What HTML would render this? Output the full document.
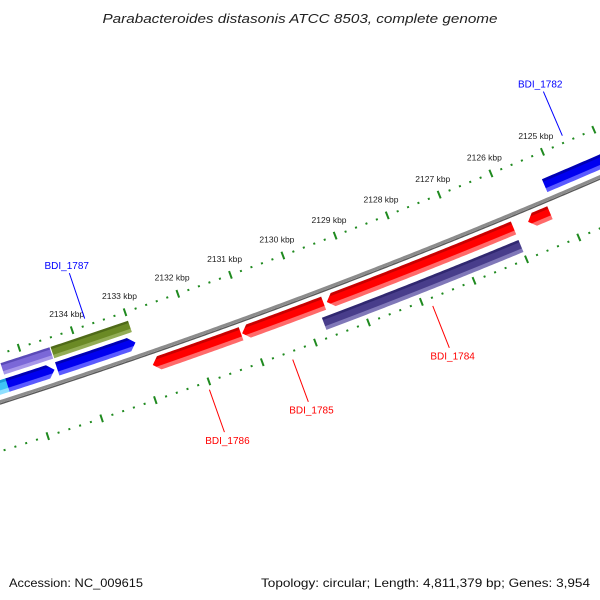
<!DOCTYPE html>
<html><head><meta charset="utf-8"><style>
html,body{margin:0;padding:0;background:#fff}
svg{display:block}
text{font-family:"Liberation Sans","DejaVu Sans",sans-serif}
</style></head><body>
<svg id="chart" width="600" height="600" viewBox="0 0 600 600" xmlns="http://www.w3.org/2000/svg">
<defs id="defs"></defs>
<text x="300" y="23" text-anchor="middle" font-size="13" font-style="italic" fill="#222" textLength="395" lengthAdjust="spacingAndGlyphs">Parabacteroides distasonis ATCC 8503, complete genome</text>
<g id="plot"></g>
<text x="9" y="587" font-size="12" fill="#111" textLength="134" lengthAdjust="spacingAndGlyphs">Accession: NC_009615</text>
<text x="590" y="587" font-size="12" fill="#111" text-anchor="end" textLength="329" lengthAdjust="spacingAndGlyphs">Topology: circular; Length: 4,811,379 bp; Genes: 3,954</text>
</svg>
<script>
// ---- data ----
const featureNames = ["cyan-gene","purple-gene","olive-gene","blue-gene-a","blue-gene-b","blue-gene-1782","red-gene-1786","red-gene-1785","red-gene-1784","red-gene-small","purple-gene-dark"];
const featureStart = [2135.38,2134.48,2133.00,2134.52,2133.00,2123.00,2131.18,2129.62,2126.00,2125.30,2126.00];
const featureEnd   = [2135.70,2135.40,2134.46,2135.40,2134.47,2125.20,2132.84,2131.16,2129.56,2125.72,2129.74];
const featureArrow = ["high","none","none","low","low","none","high","high","high","high","none"];
const featureRow   = ["blue","purpleL","olive","blue","blue","blue","red","red","red","red","purpleD"];
const featureColor = ["cyan","purpleL","olive","blue","blue","blue","red","red","red","red","purpleD"];
const tickLabels = [2134,2133,2132,2131,2130,2129,2128,2127,2126,2125];
const geneLabels = ["BDI_1787","BDI_1782","BDI_1786","BDI_1785","BDI_1784"];
const geneLabelPos = [2133.72,2124.56,2132.04,2130.48,2127.84];
const geneLabelSide = ["up","up","down","down","down"];

// ---- geometry ----
const CX=-1963, CY=-5745;
const R_BACK=6453, R_UP=6407, R_LOW=6500;
const rows={purpleL:[6416,6428],olive:[6416,6428],blue:[6432,6446],red:[6459,6473],purpleD:[6479,6492]};
const palette={
 cyan:["#1e9fd8","#3fc4f5","#8fe0ff"],
 purpleL:["#5a4ab8","#7b68d8","#a898ea"],
 olive:["#4f6a18","#6b8a25","#93ad55"],
 blue:["#0000b4","#0000f0","#5a5aff"],
 red:["#c80000","#ff0000","#ff6a6a"],
 purpleD:["#302870","#483d8b","#8078b8"]};
function ang(k){return (71.48+(k-2134)*0.5)*Math.PI/180;}
function pt(k,r){const a=ang(k);return [CX+r*Math.cos(a),CY+r*Math.sin(a)];}
const NS="http://www.w3.org/2000/svg";
const plot=document.getElementById('plot'), defs=document.getElementById('defs');
function mk(tag,attrs,parent){const e=document.createElementNS(NS,tag);for(const k in attrs)e.setAttribute(k,attrs[k]);(parent||plot).appendChild(e);return e;}
function arcPath(r,k1,k2){let d="";const n=Math.max(2,Math.ceil(Math.abs(k2-k1)/0.05));for(let i=0;i<=n;i++){const k=k1+(k2-k1)*i/n;const p=pt(k,r);d+=(i?"L":"M")+p[0].toFixed(2)+","+p[1].toFixed(2);}return d;}

// gradients
Object.keys(palette).forEach(c=>{
 Object.keys(rows).forEach(rw=>{
  const [r0,r1]=rows[rw];
  const g=mk('radialGradient',{id:'g-'+c+'-'+rw,gradientUnits:'userSpaceOnUse',cx:CX,cy:CY,r:r1,fx:CX,fy:CY},defs);
  const o=v=>(v/r1).toFixed(6);const h=r1-r0;
  [[r0,0],[r0+h*0.18,0],[r0+h*0.22,1],[r0+h*0.68,1],[r0+h*0.72,2],[r1,2]].forEach(s=>mk('stop',{offset:o(s[0]),'stop-color':palette[c][s[1]]},g));
 });
});

// backbone
const bb1=mk('path',{d:arcPath(R_BACK-0.5,2136.6,2122.5),fill:'none',stroke:'#8c8c8c','stroke-width':3});


const bb2=mk('path',{d:arcPath(R_BACK+1.8,2136.6,2122.5),fill:'none',stroke:'#5a5a5a','stroke-width':1.4});



// ticks
function ticks(r,kFrom,kTo,name){
 for(let i=Math.round(kTo*5);i<=Math.round(kFrom*5);i++){
  const k=i/5;const major=(i%5===0);
  const a=pt(k,r-(major?4:1)),b=pt(k,r+(major?4:1));
  const t=mk('line',{x1:a[0],y1:a[1],x2:b[0],y2:b[1],stroke:'#1f8a1f','stroke-width':2});
  
  
 }
}
ticks(R_UP,2135.2,2123.0,'upper-ruler');
ticks(R_LOW,2136.4,2123.0,'lower-ruler');
tickLabels.forEach(k=>{
 const p=pt(k,6390);
 const t=mk('text',{x:p[0],y:p[1]+3,'text-anchor':'middle','font-size':8.5,fill:'#222'});
 t.textContent=k+' kbp';
 
 
});

// features
featureNames.forEach((nm,i)=>{
 const [r0,r1]=rows[featureRow[i]];const rm=(r0+r1)/2;
 const lo=featureStart[i],hi=featureEnd[i];const ah=0.12;
 let loIn=lo,hiIn=hi;
 if(featureArrow[i]==='low')loIn=lo+ah;
 if(featureArrow[i]==='high')hiIn=hi-ah;
 let d=arcPath(r0,loIn,hiIn).replace(/^M/,'M');
 if(featureArrow[i]==='high'){const p=pt(hi,rm);d+="L"+p[0]+","+p[1];}
 d+=arcPath(r1,hiIn,loIn).replace(/^M/,'L');
 if(featureArrow[i]==='low'){const p=pt(lo,rm);d+="L"+p[0]+","+p[1];}
 d+="Z";
 const e=mk('path',{d:d,fill:'url(#g-'+featureColor[i]+'-'+featureRow[i]+')'});
 
 
});

// gene labels
geneLabels.forEach((lb,i)=>{
 const k=geneLabelPos[i];const up=geneLabelSide[i]==='up';
 const col=up?'#0000ff':'#ff0000';
 const a=pt(k,up?6352:6508),b=pt(k,up?6400:6553),tp=pt(k,up?6344:6562);
 const l=mk('line',{x1:a[0],y1:a[1],x2:b[0],y2:b[1],stroke:col,'stroke-width':1});
 
 
 const t=mk('text',{x:tp[0],y:tp[1]+3.5,'text-anchor':'middle','font-size':10,fill:col});
 t.textContent=lb;
 
 
});
</script>
</body></html>
